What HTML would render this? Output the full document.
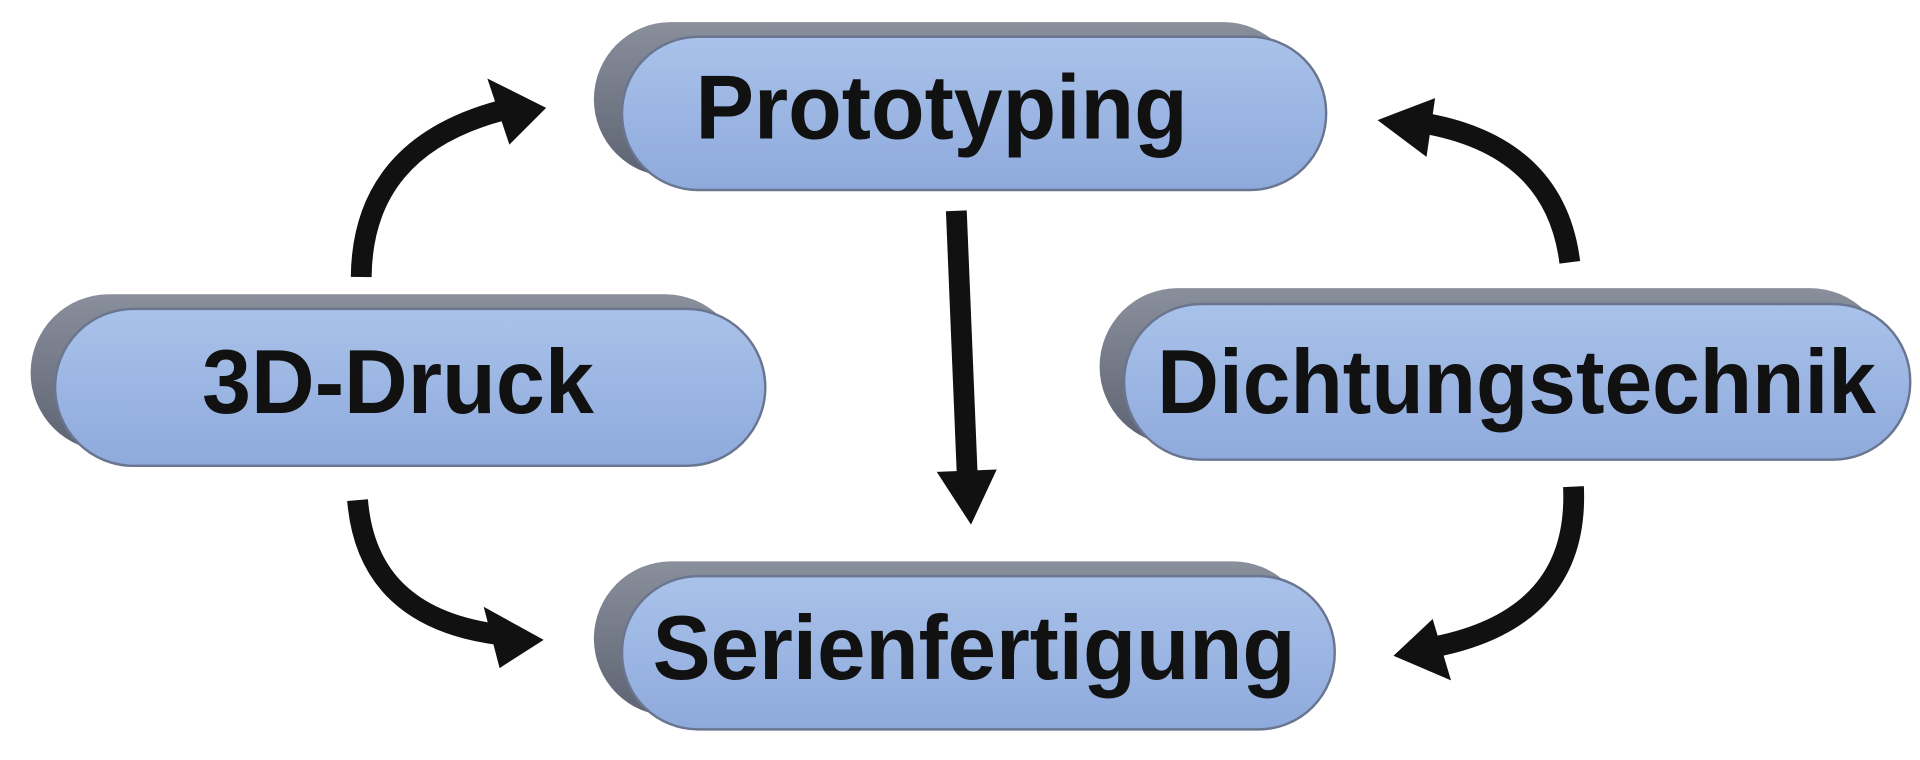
<!DOCTYPE html>
<html><head><meta charset="utf-8"><style>
html,body{margin:0;padding:0;background:#fff;}
svg{display:block;}
text{font-family:"Liberation Sans",sans-serif;font-weight:bold;fill:#111;}
</style></head><body>
<svg width="1920" height="760" viewBox="0 0 1568 620" preserveAspectRatio="none" xmlns="http://www.w3.org/2000/svg">
<defs>
<linearGradient id="g" x1="0" y1="0" x2="0" y2="1">
<stop offset="0" stop-color="#a9c2ea"/><stop offset="1" stop-color="#8eaadc"/>
</linearGradient>
<linearGradient id="s" x1="0" y1="0" x2="0" y2="1">
<stop offset="0" stop-color="#8a8f9c"/><stop offset="1" stop-color="#5d6372"/>
</linearGradient>
</defs>
<rect x="485" y="18" width="577" height="126" rx="63" fill="url(#s)"/>
<rect x="508" y="30" width="575" height="125" rx="62" fill="url(#g)" stroke="#6a7590" stroke-width="2"/>
<text x="568" y="113" font-size="74" textLength="402" lengthAdjust="spacingAndGlyphs">Prototyping</text>
<rect x="25" y="240" width="582" height="128" rx="64" fill="url(#s)"/>
<rect x="45" y="252" width="580" height="128" rx="64" fill="url(#g)" stroke="#6a7590" stroke-width="2"/>
<text x="165" y="337" font-size="74" textLength="320" lengthAdjust="spacingAndGlyphs">3D-Druck</text>
<rect x="898" y="235" width="644" height="128" rx="64" fill="url(#s)"/>
<rect x="918" y="248" width="642" height="127" rx="63" fill="url(#g)" stroke="#6a7590" stroke-width="2"/>
<text x="945" y="337" font-size="74" textLength="587" lengthAdjust="spacingAndGlyphs">Dichtungstechnik</text>
<rect x="485" y="458" width="585" height="126" rx="63" fill="url(#s)"/>
<rect x="508" y="470" width="582" height="125" rx="62" fill="url(#g)" stroke="#6a7590" stroke-width="2"/>
<text x="533" y="554" font-size="74" textLength="525" lengthAdjust="spacingAndGlyphs">Serienfertigung</text>
<g fill="none" stroke="#111" stroke-width="17">
<path d="M295,226 Q296,120 410,90"/>
<path d="M292,408 Q300,505 410,518"/>
<path d="M781,172 L790,390"/>
<path d="M1282,214 Q1270,118 1160,100"/>
<path d="M1285,397 Q1290,505 1170,528"/>
</g>
<g fill="#111">
<polygon points="446,88 398,64 416,118"/>
<polygon points="444,522 395,495 408,545"/>
<polygon points="793,428 765,385 814,383"/>
<polygon points="1125,98 1172,80 1165,128"/>
<polygon points="1138,535 1170,505 1185,555"/>
</g>
</svg>
</body></html>
